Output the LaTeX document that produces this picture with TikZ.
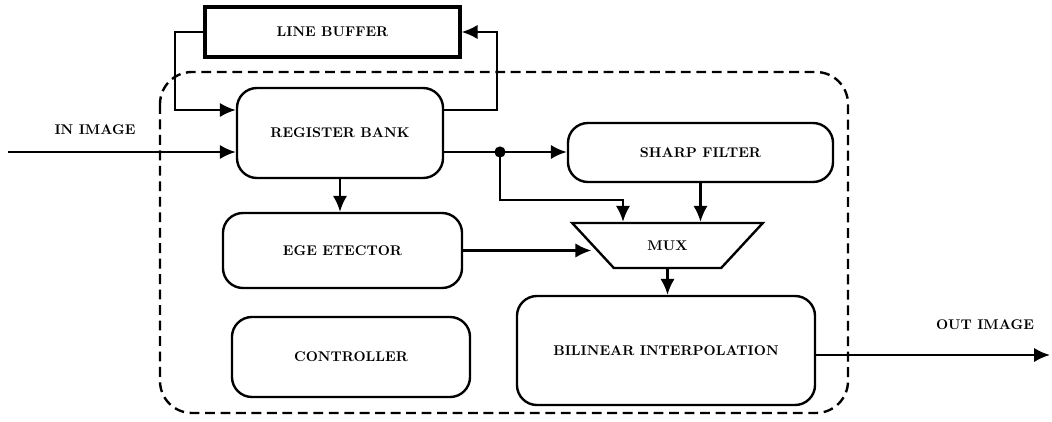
\documentclass[tikz,border=0pt]{standalone}
\usetikzlibrary{positioning,calc}
\usetikzlibrary{shapes.geometric, arrows, arrows.meta}
\tikzset{
  bk/.style={rectangle, rounded corners=0.5cm, text centered, draw=black, line width=1.7pt, font=\fontsize{10}{11}\selectfont\bfseries},
  lb/.style={rectangle, text centered, draw=black, line width=2.2pt, font=\fontsize{10}{11}\selectfont\bfseries},
  mx/.style={trapezium, trapezium angle=45, shape border rotate=180, trapezium stretches=true, text centered, draw=black, line width=1.7pt, font=\fontsize{10}{11}\selectfont\bfseries},
  dt/.style={circle, fill=black, inner sep=0pt, minimum size=2.8mm},
  tx/.style={inner sep=0pt, font=\fontsize{10}{11}\selectfont\bfseries},
  >={Latex[length=4mm,width=3.6mm]}
}
\begin{document}
\begin{tikzpicture}[x=0.025cm, y=-0.025cm, line width=1.7pt]
	\useasboundingbox (0,0) rectangle (1052,421);
	\draw[dashed, dash pattern=on 7pt off 4pt, rounded corners=0.8cm] (160,72) rectangle (848,413);
	\node[lb, minimum width=6.375cm, minimum height=1.25cm] (buf) at (332.5,32) {LINE BUFFER};
	\node[bk, minimum width=5.15cm, minimum height=2.25cm] (reg) at (340,133) {REGISTER BANK};
	\node[bk, minimum width=5.975cm, minimum height=1.875cm] (edge) at (342.5,250.5) {EGE ETECTOR};
	\node[bk, minimum width=5.95cm, minimum height=2cm] (ctrl) at (351,357) {CONTROLLER};
	\node[bk, minimum width=6.625cm, minimum height=1.475cm] (sharp) at (700.5,152.5) {SHARP FILTER};
	\node[mx, minimum width=4.775cm, minimum height=1.125cm] (mux) at (667.5,245.5) {MUX};
	\node[bk, minimum width=7.45cm, minimum height=2.725cm] (bil) at (666,350.5) {BILINEAR INTERPOLATION};
	\node[dt] (split) at (500,152) {};
	\node[tx] (inlbl) at (95,130) {IN IMAGE};
	\node[tx] (outlbl) at (985,325) {OUT IMAGE};
	\coordinate (in) at (8,152);
	\coordinate (out) at (1050,355);
	\coordinate (fbL) at (175,110);
	\coordinate (fbR) at (497,110);
	\coordinate (tap) at (623,200);
	%
	\draw[->] (reg.east |- fbR) -- (fbR) |- (buf.east);
	\draw[->] (buf.west) -| (fbL) -- (reg.west |- fbL);
	\draw[->] (in) -- (reg.west |- in);
	\draw (reg.east |- split) -- (split.center);
	\draw[->] (split.center) -- (sharp.west |- split);
	\draw[->] (split.center) |- (tap) -- (tap |- mux.north);
	\draw[->] (sharp.south) -- (sharp.south |- mux.north);
	\draw[->] (reg.south) -- (reg.south |- edge.north);
	\draw[->] (edge.east) -- (edge.east -| mux.west);
	\draw[->] (mux.south) -- (mux.south |- bil.north);
	\draw[->] (bil.east |- out) -- (out);
\end{tikzpicture}
\end{document}
